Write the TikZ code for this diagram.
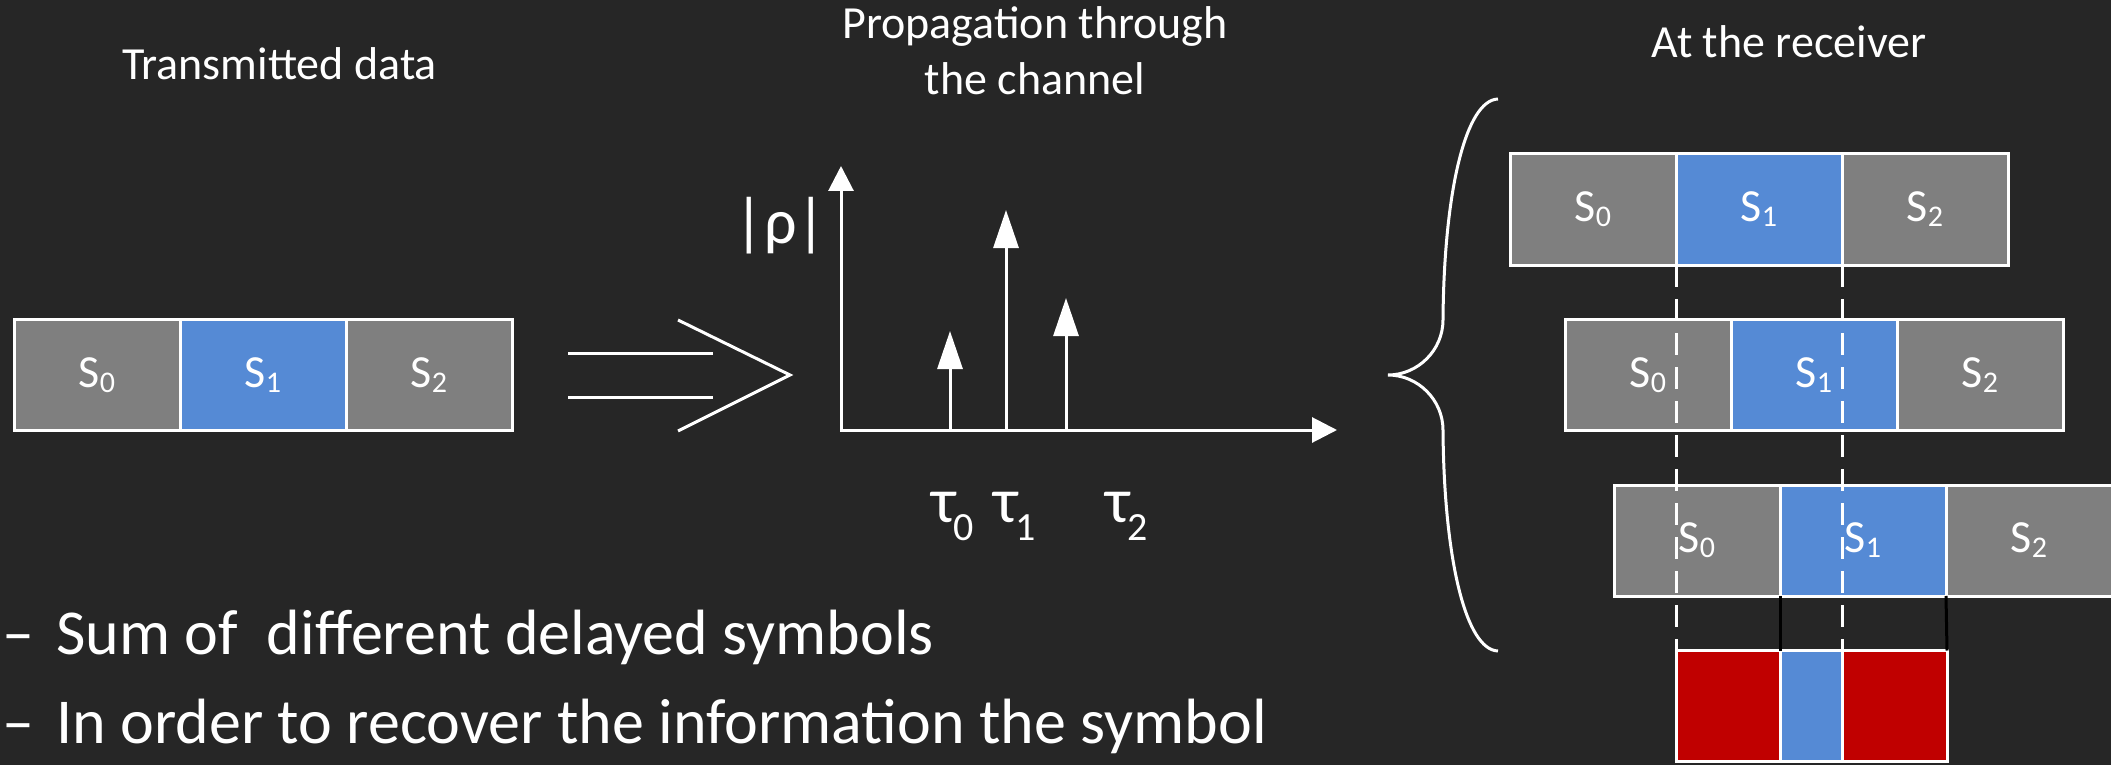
\documentclass[tikz,border=0pt]{standalone}
\usepackage{fontspec}
\setmainfont{Carlito}
\usetikzlibrary{arrows.meta}
\definecolor{bgcol}{HTML}{262626}
\definecolor{cellgray}{HTML}{7F7F7F}
\definecolor{cellblue}{HTML}{558AD5}
\definecolor{cellred}{HTML}{C00000}
\newcommand\Ssub[1]{S\raisebox{-2.5pt}{\fontsize{15pt}{15pt}\selectfont #1}}
\newcommand\tausub[1]{τ\kern-1.5pt\raisebox{-9pt}{\fontsize{20pt}{20pt}\selectfont #1}}
\begin{document}
\begin{tikzpicture}[x=0.5pt,y=-0.5pt,
  cell/.style={draw=white, line width=1.5pt, minimum width=83pt, minimum height=55.5pt, inner sep=0pt, outer sep=0pt, text=white, font=\fontsize{23pt}{23pt}\selectfont},
  gcell/.style={cell, fill=cellgray},
  bcell/.style={cell, fill=cellblue},
  rcell/.style={cell, fill=cellred},
  title/.style={text=white, font=\fontsize{23pt}{23pt}\selectfont, inner sep=0pt, anchor=base},
  bigsym/.style={text=white, font=\fontsize{32pt}{32pt}\selectfont, inner sep=0pt},
  wline/.style={white, line width=1.5pt},
  axisarrow/.style={wline, {Triangle[length=12.5pt,width=12.5pt]}-{Triangle[length=12.5pt,width=12.5pt]}},
  impulse/.style={wline, -{Triangle[length=19pt,width=12.5pt]}},
  guide/.style={white, line width=1.5pt, dash pattern=on 11pt off 6pt},
  joiner/.style={black, line width=1.5pt},
  bullet/.style={text=white, font=\fontsize{32pt}{32pt}\selectfont, inner sep=0pt, anchor=base west}
]
\fill[bgcol] (0,0) rectangle (2111,765);
\useasboundingbox (0,0) rectangle (2111,765);

% titles
\node[title] (ttx) at (279.5,80) {Transmitted data};
\node[title] (tp1) at (1035,39) {Propagation through};
\node[title] (tp2) at (1035,95) {the channel};
\node[title] (trx) at (1789,58) {At the receiver};

% transmitted symbols
\node[gcell] (t0) at (97,375) {\Ssub{0}};
\node[bcell] (t1) at (263,375) {\Ssub{1}};
\node[gcell] (t2) at (429,375) {\Ssub{2}};

% double arrow
\draw[wline] (568,353) -- (713,353);
\draw[wline] (568,397) -- (713,397);
\draw[wline] (678,320) -- (790,375) -- (678,431);

% channel impulse response
\coordinate (O) at (841,430);
\coordinate (ytip) at (841,166);
\coordinate (xtip) at (1337,430);
\draw[axisarrow] (ytip) -- (O) -- (xtip);
\coordinate (p0) at (950,430);  \coordinate (p0t) at (950,331);
\coordinate (p1) at (1006,430); \coordinate (p1t) at (1006,210);
\coordinate (p2) at (1066,430); \coordinate (p2t) at (1066,298);
\draw[impulse] (p0) -- (p0t);
\draw[impulse] (p1) -- (p1t);
\draw[impulse] (p2) -- (p2t);
\node[bigsym, anchor=base] (rho) at (780.5,243) {|ρ|};
\node[bigsym, anchor=base west] (tau0) at (931,522) {\tausub{0}};
\node[bigsym, anchor=base west] (tau1) at (993,522) {\tausub{1}};
\node[bigsym, anchor=base west] (tau2) at (1105,522) {\tausub{2}};

% brace
\draw[wline] (1498,99) .. controls (1466,100) and (1444,190) .. (1443,320)
  .. controls (1443,350) and (1418,375) .. (1388,375)
  .. controls (1418,375) and (1443,400) .. (1443,430)
  .. controls (1444,560) and (1466,650) .. (1498,651);

% receiver rows
\node[gcell] (ra0) at (1593,209.5) {\Ssub{0}};
\node[bcell] (ra1) at (1759,209.5) {\Ssub{1}};
\node[gcell] (ra2) at (1925,209.5) {\Ssub{2}};
\node[gcell] (rb0) at (1648,375) {\Ssub{0}};
\node[bcell] (rb1) at (1814,375) {\Ssub{1}};
\node[gcell] (rb2) at (1980,375) {\Ssub{2}};
\node[gcell] (rc0) at (1697,540.5) {\Ssub{0}};
\node[bcell] (rc1) at (1863,540.5) {\Ssub{1}};
\node[gcell] (rc2) at (2029,540.5) {\Ssub{2}};
\node[rcell, minimum width=52pt] (bc0) at (1728,706) {};
\node[bcell, minimum width=31pt] (bc1) at (1811,706) {};
\node[rcell, minimum width=52.5pt] (bc2) at (1894.5,706) {};

% guides
\draw[joiner] (rc0.south east) -- (bc0.north east);
\draw[joiner] (rc1.south east) -- (bc2.north east);
\draw[guide] (ra0.south east) -- (bc0.north west);
\draw[guide] (ra1.south east) -- (bc1.north east);

% bullets
\node[bullet] (b1) at (2,654) {–\hspace{11pt}Sum of\ \ different delayed symbols};
\node[bullet] (b2) at (2,743) {–\hspace{11pt}In order to recover the information the symbol};
\end{tikzpicture}
\end{document}
